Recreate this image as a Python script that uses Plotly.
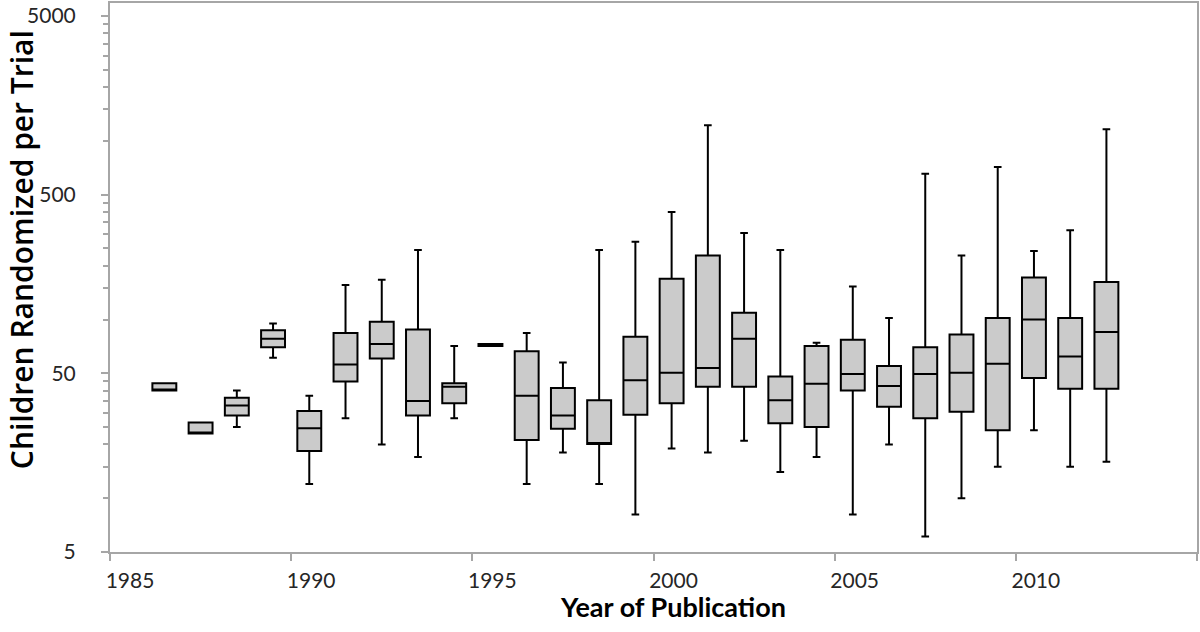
import math
import plotly.graph_objects as go

# Box statistics per year of publication (children randomized per trial)
years = list(range(1986, 2013))
lower = [40, 23, 25, 61, 12, 28, 20, 17, 28, 71, 12, 18, 12, 8.1, 19, 18, 21, 14, 17, 8.1, 20, 6.1, 10, 15, 24, 15, 16]
q1 = [40, 23, 29, 70, 18.4, 45, 60.5, 29, 34, 71, 21.2, 24.5, 20.1, 29.3, 34, 42, 42, 26.3, 25, 40, 32.5, 28, 30.5, 24, 47, 41, 41]
median = [40, 23, 33, 78, 24.6, 56, 73, 35, 42, 71, 37.5, 29, 20.1, 45.7, 50.4, 53.6, 78, 35.3, 43.7, 49.6, 42.5, 49.6, 50.4, 56.5, 100, 62, 85]
q3 = [44, 26.5, 36.5, 87, 30.8, 84, 97, 88, 44, 73, 66.5, 41.4, 35.3, 80, 169, 228, 109, 48, 71, 77, 55, 70, 82.5, 102, 172, 102, 162]
upper = [44, 26.5, 40, 95, 37.5, 156, 167, 245, 71, 73, 84, 57.5, 245, 272, 400, 1220, 305, 245, 74, 153, 102, 655, 228, 714, 242, 316, 1160]

x_ticks = [1985, 1990, 1995, 2000, 2005, 2010, 2015]
x_labels = ["1985", "1990", "1995", "2000", "2005", "2010", ""]
y_ticks = [5, 50, 500, 5000]
y_labels = ["5", "50", "500", "5000"]
y_minor = [5 * k * 10 ** n for n in range(3) for k in range(2, 10)]

axis_grey = "#a6a6a6"
tick_font = dict(family="Lato", size=21, color="#262626")

fig = go.Figure()
fig.add_trace(go.Box(
    x=[y + 0.5 for y in years],
    q1=q1, median=median, q3=q3,
    lowerfence=lower, upperfence=upper,
    width=0.66,
    whiskerwidth=0.32,
    fillcolor="#cbcbcb",
    line=dict(color="black", width=2),
    boxpoints=False,
    hoverinfo="skip",
    showlegend=False,
))

fig.update_layout(
    width=1200, height=632,
    margin=dict(l=110, r=3, t=3, b=80, autoexpand=False),
    paper_bgcolor="white", plot_bgcolor="white",
    xaxis=dict(
        range=[1985, 2015],
        tickvals=x_ticks, ticktext=x_labels,
        ticks="outside", ticklen=7, tickwidth=2, tickcolor=axis_grey,
        ticklabelshift=20, ticklabelstandoff=2,
        showline=True, linecolor=axis_grey, linewidth=2, mirror=True,
        showgrid=False, zeroline=False, automargin=False,
        tickfont=tick_font,
    ),
    yaxis=dict(
        type="log",
        range=[math.log10(5), math.log10(5) + 549 / 178.7],
        tickvals=y_ticks, ticktext=y_labels,
        ticks="outside", ticklen=7, tickwidth=2, tickcolor=axis_grey,
        minor=dict(tickvals=y_minor, ticks="outside", ticklen=5,
                   tickwidth=2, tickcolor=axis_grey, showgrid=False),
        showline=True, linecolor=axis_grey, linewidth=2, mirror=True,
        showgrid=False, zeroline=False, automargin=False,
        ticklabelstandoff=21,
        tickfont=tick_font,
    ),
    annotations=[
        dict(text="Children Randomized per Trial", textangle=-90,
             xref="paper", yref="paper", x=-0.0818, y=0.550,
             xanchor="center", yanchor="middle", showarrow=False,
             font=dict(family="Open Sans", size=30, color="black", weight=600)),
        dict(text="Year of Publication",
             xref="paper", yref="paper", x=0.5175, y=-0.0984,
             xanchor="center", yanchor="middle", showarrow=False,
             font=dict(family="Lato", size=27, color="black", weight="bold")),
    ],
)

# page body has an 8px default margin; drop it so the figure sits at 0,0
fig.write_html("out.html", config={"displayModeBar": False},
               post_script="document.body.style.margin = '0';")
